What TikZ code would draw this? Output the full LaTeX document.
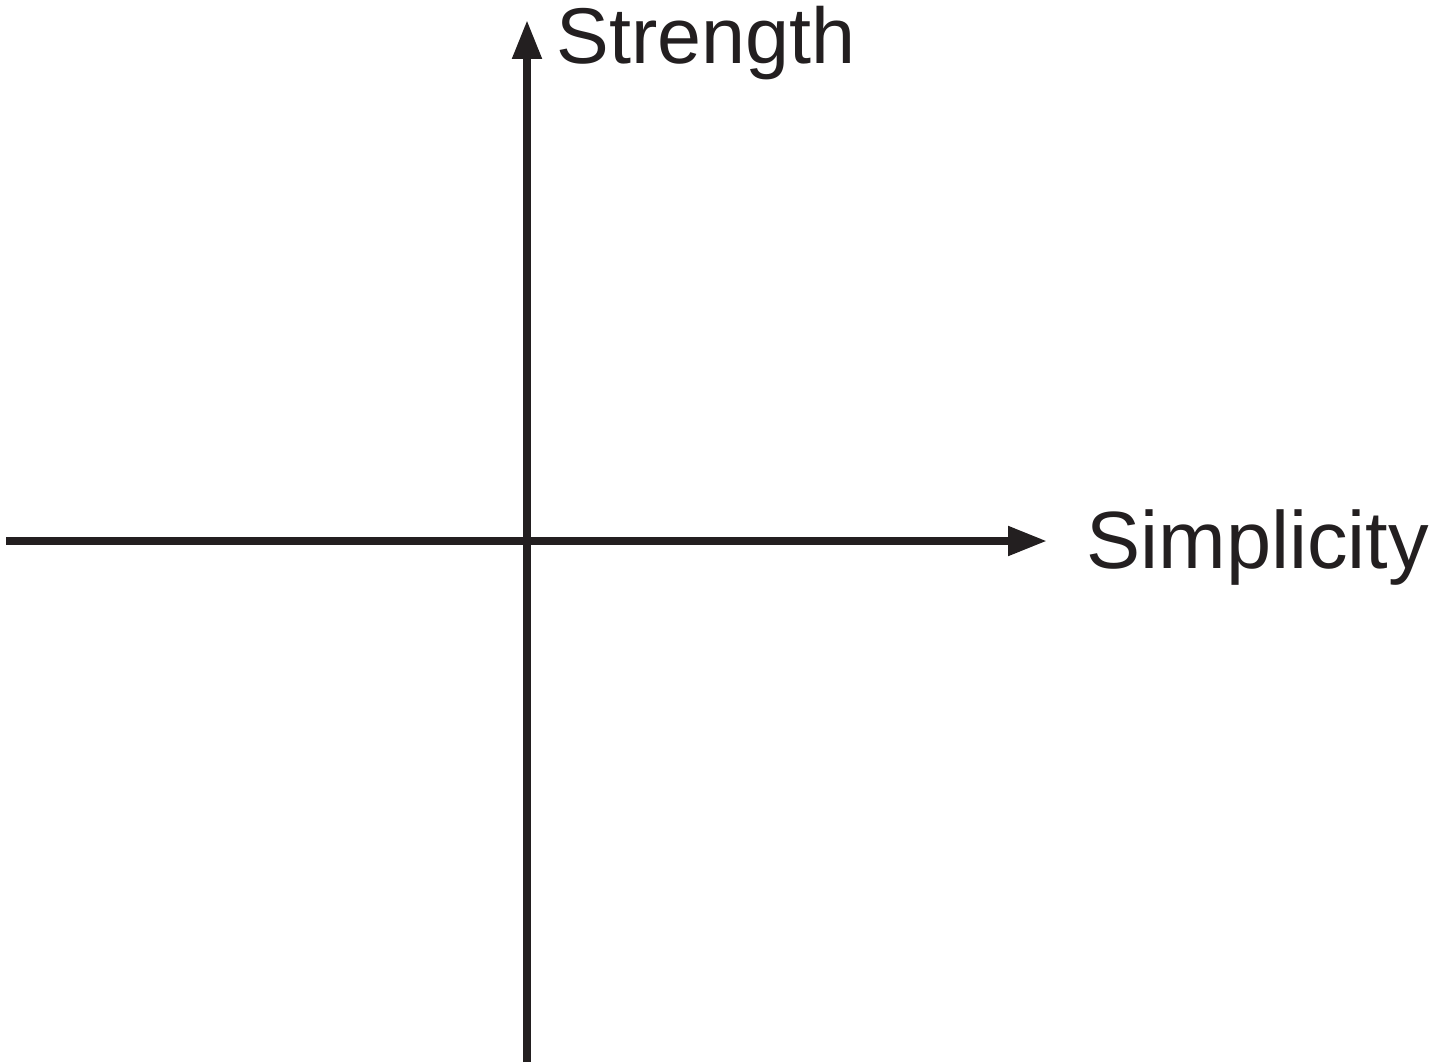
\documentclass[tikz,border=0pt]{standalone}
\usepackage{fontspec}
\setmainfont{Liberation Sans}
\usepackage{xcolor}
\usetikzlibrary{arrows.meta,positioning}
\definecolor{axisgray}{HTML}{231F20}

\begin{document}
\begin{tikzpicture}[x=0.02cm, y=-0.02cm,
  axis/.style={line width=0.16cm, axisgray,
    -{Triangle[length=0.78cm, width=0.56cm]}},
  label/.style={font=\fontsize{45}{54}\selectfont, text=axisgray,
    inner sep=0pt}
]
\useasboundingbox (0,0) rectangle (1430,1062);

\coordinate (xstart) at (6,541);
\coordinate (xend) at (1047,541);
\coordinate (ystart) at (527,1062);
\coordinate (yend) at (527,20);

\draw[axis] (xstart) -- (xend);
\draw[axis] (ystart) -- (yend);

\node[label, anchor=base west] (strength) at (556,63) {Strength};
\node[label, font=\fontsize{46.2}{54}\selectfont, anchor=base west]
  (simplicity) at (1086,568) {Simplicity};

\end{tikzpicture}
\end{document}
